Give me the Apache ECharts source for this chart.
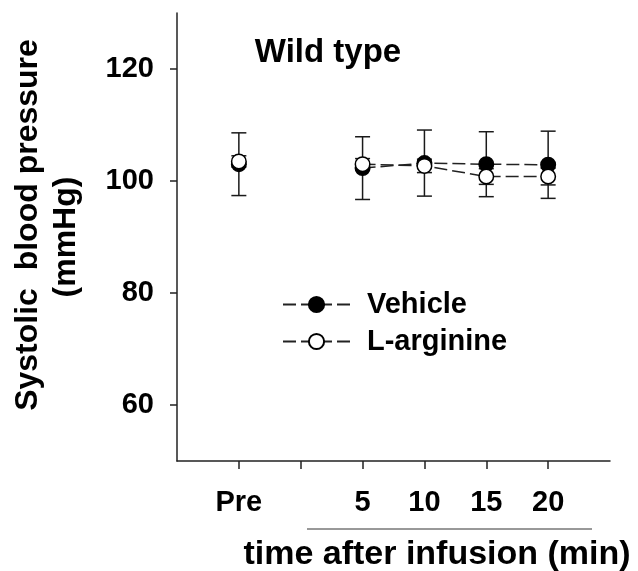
<!DOCTYPE html>
<html lang="en">
<head>
<meta charset="UTF-8">
<title>Systolic blood pressure - Wild type</title>
<script src="https://cdn.jsdelivr.net/npm/echarts@6.0.0/dist/echarts.min.js"></script>
<style>
  html, body { margin: 0; padding: 0; background: #fff; }
  #chart { width: 638px; height: 571px; }
</style>
</head>
<body>
<div id="chart"></div>
<script>
// time points (Pre drawn at -5)
var times = [-5, 5, 10, 15, 20];
var xTicks = [-5, 0, 5, 10, 15, 20];
var xLabels = [-5, 5, 10, 15, 20];
var yTicks = [60, 80, 100, 120];

var vehicleMean = [103.0, 102.3, 103.2, 103.0, 102.9];
var vehicleSE = [5.6, 5.6, 5.9, 5.8, 6.0];
var largMean = [103.5, 103.0, 102.7, 100.8, 100.8];
var largSE = [1.0, 1.0, 1.2, 1.4, 1.5];

var FONT = '"Liberation Sans", Arial, sans-serif';

// line data with a gap between Pre and the 5 min point
function lineData(mean) {
    var out = [];
    for (var i = 0; i < times.length; i++) {
        out.push([times[i], mean[i]]);
        if (i === 0) out.push([0, '-']);
    }
    return out;
}

function errData(mean, se) {
    return times.map(function (t, i) {
        return [t, mean[i] - se[i], mean[i] + se[i]];
    });
}

function renderErr(params, api) {
    var x = api.value(0);
    var lo = api.coord([x, api.value(1)]);
    var hi = api.coord([x, api.value(2)]);
    var w = 7.5;
    var st = { stroke: '#1a1a1a', lineWidth: 1.5 };
    return {
        type: 'group',
        children: [
            { type: 'line', shape: { x1: lo[0], y1: lo[1], x2: hi[0], y2: hi[1] }, style: st },
            { type: 'line', shape: { x1: lo[0] - w, y1: lo[1], x2: lo[0] + w, y2: lo[1] }, style: st },
            { type: 'line', shape: { x1: hi[0] - w, y1: hi[1], x2: hi[0] + w, y2: hi[1] }, style: st }
        ]
    };
}

var chart = echarts.init(document.getElementById('chart'));

var option = {
    animation: false,
    grid: { left: 177, right: 28, top: 13, bottom: 110 },
    legend: {
        data: ['Vehicle', 'L-arginine'],
        orient: 'vertical',
        left: 282,
        top: 290,
        padding: 0,
        itemWidth: 67,
        itemHeight: 19,
        itemGap: 8,
        textStyle: { fontFamily: FONT, fontSize: 29, fontWeight: 'bold', color: '#000', padding: [0, 0, 0, 12] }
    },
    xAxis: {
        type: 'value',
        min: -10,
        max: 25,
        splitLine: { show: false },
        axisLine: { show: true, onZero: false, lineStyle: { color: '#222', width: 1.5 } },
        axisTick: { show: true, length: 8, customValues: xTicks, lineStyle: { color: '#222', width: 1.5 } },
        axisLabel: {
            customValues: xLabels,
            margin: 27,
            fontFamily: FONT, fontSize: 29, fontWeight: 'bold', color: '#000',
            formatter: function (v) { return v === -5 ? 'Pre' : String(v); }
        }
    },
    yAxis: {
        type: 'value',
        min: 50,
        max: 130,
        splitLine: { show: false },
        axisLine: { show: true, onZero: false, lineStyle: { color: '#222', width: 1.5 } },
        axisTick: { show: true, length: 7, customValues: yTicks, lineStyle: { color: '#222', width: 1.5 } },
        axisLabel: {
            customValues: yTicks,
            margin: 23,
            fontFamily: FONT, fontSize: 29, fontWeight: 'bold', color: '#000'
        }
    },
    graphic: [
        { type: 'text', x: 328, y: 53, style: { text: 'Wild type', font: 'bold 33px ' + FONT, fill: '#000', textAlign: 'center', textVerticalAlign: 'middle', align: 'center', verticalAlign: 'middle' } },
        { type: 'text', x: 28, y: 225, rotation: Math.PI / 2, style: { text: 'Systolic  blood pressure', font: 'bold 32px ' + FONT, fill: '#000', textAlign: 'center', textVerticalAlign: 'middle', align: 'center', verticalAlign: 'middle' } },
        { type: 'text', x: 66, y: 237, rotation: Math.PI / 2, style: { text: '(mmHg)', font: 'bold 32px ' + FONT, fill: '#000', textAlign: 'center', textVerticalAlign: 'middle', align: 'center', verticalAlign: 'middle' } },
        { type: 'text', x: 437, y: 555, style: { text: 'time after infusion (min)', font: 'bold 34px ' + FONT, fill: '#000', textAlign: 'center', textVerticalAlign: 'middle', align: 'center', verticalAlign: 'middle' } },
        { type: 'line', shape: { x1: 307, y1: 529, x2: 592, y2: 529 }, style: { stroke: '#333', lineWidth: 1 } }
    ],
    series: [
        {
            type: 'custom', name: 'vehicleErr', z: 1,
            renderItem: renderErr,
            encode: { x: 0, y: [1, 2] },
            data: errData(vehicleMean, vehicleSE)
        },
        {
            type: 'custom', name: 'largErr', z: 1,
            renderItem: renderErr,
            encode: { x: 0, y: [1, 2] },
            data: errData(largMean, largSE)
        },
        {
            name: 'Vehicle', type: 'line', z: 3,
            data: lineData(vehicleMean),
            showAllSymbol: true,
            symbol: 'circle', symbolSize: 14.5,
            itemStyle: { color: '#000', borderColor: '#000', borderWidth: 1.5 },
            lineStyle: { color: '#222', width: 1.5, type: [13, 5] }
        },
        {
            name: 'L-arginine', type: 'line', z: 4,
            data: lineData(largMean),
            showAllSymbol: true,
            symbol: 'circle', symbolSize: 14.5,
            itemStyle: { color: '#fff', borderColor: '#000', borderWidth: 1.5 },
            lineStyle: { color: '#222', width: 1.5, type: [13, 5] }
        }
    ]
};

chart.setOption(option);
</script>
</body>
</html>
